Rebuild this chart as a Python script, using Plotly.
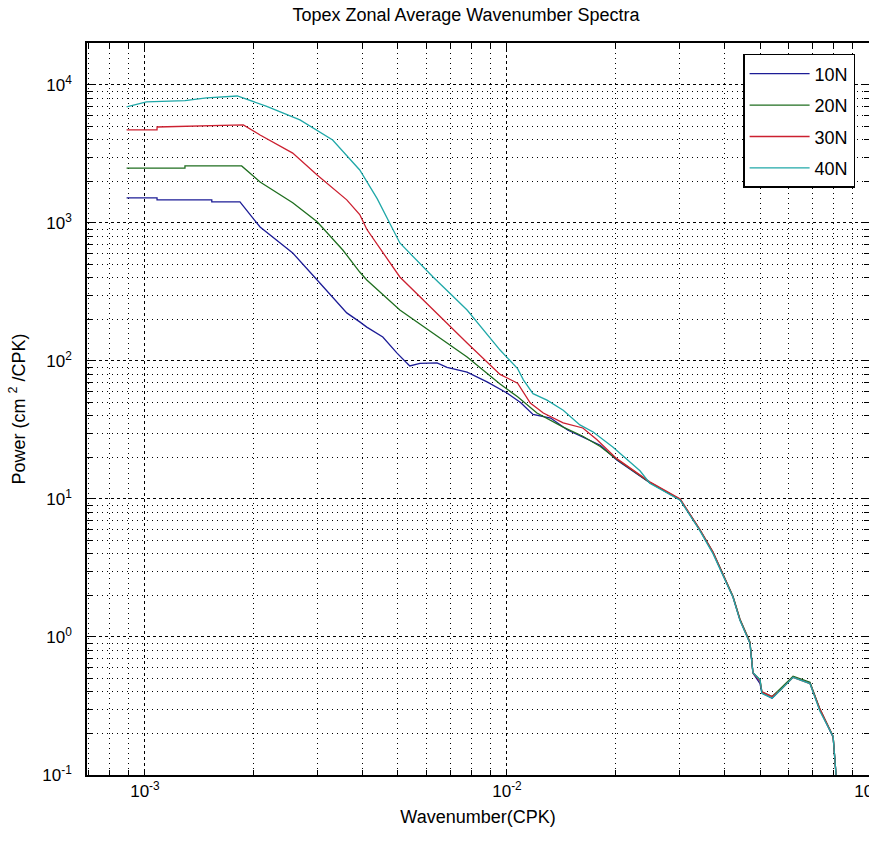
import plotly.graph_objects as go

# ---------------- data ----------------
k10 = [8.9e-4, 1.08e-3, 1.08e-3, 1.53e-3, 1.53e-3, 1.83e-3, 2.08e-3, 2.56e-3, 2.99e-3,
       3.30e-3, 3.61e-3, 3.92e-3, 4.10e-3, 4.54e-3, 4.97e-3, 5.39e-3, 5.75e-3, 6.41e-3,
       6.83e-3, 7.76e-3, 8.81e-3, 1.0e-2, 1.09e-2, 1.18e-2, 1.32e-2, 1.47e-2, 1.62e-2,
       1.81e-2, 2.01e-2, 2.48e-2, 3.01e-2, 3.41e-2, 3.71e-2, 4.21e-2, 4.40e-2, 4.69e-2,
       4.78e-2, 5.00e-2, 5.06e-2, 5.40e-2, 5.68e-2, 6.17e-2, 6.87e-2, 7.32e-2, 7.96e-2,
       8.11e-2, 8.13e-2]
p10 = [1520, 1520, 1470, 1470, 1420, 1420, 935, 606, 386,
       291, 223, 192, 176, 149, 114, 92, 96, 97,
       90, 83, 70.5, 58.6, 50, 41, 38.6, 31.6, 28,
       24.5, 19.2, 13.1, 9.85, 5.96, 4.06, 1.95, 1.33, 0.905,
       0.548, 0.46, 0.393, 0.36, 0.413, 0.513, 0.464, 0.296, 0.188,
       0.1, 0.05]

k20 = [8.9e-4, 1.29e-3, 1.29e-3, 1.85e-3, 2.08e-3, 2.56e-3, 2.99e-3, 3.52e-3, 3.92e-3,
       4.10e-3, 5.06e-3, 6.25e-3, 7.76e-3, 9.57e-3, 1.07e-2, 1.21e-2, 1.43e-2, 1.62e-2,
       1.81e-2, 2.01e-2, 2.48e-2, 3.01e-2, 3.41e-2, 3.71e-2, 4.21e-2, 4.40e-2, 4.69e-2,
       4.78e-2, 5.00e-2, 5.06e-2, 5.40e-2, 5.68e-2, 6.17e-2, 6.87e-2, 7.32e-2, 7.96e-2,
       8.11e-2, 8.13e-2]
p20 = [2500, 2500, 2590, 2590, 1980, 1400, 1020, 637, 441,
       386, 234, 160, 107, 68, 55, 42, 33.2, 28.5,
       24, 19.4, 13.2, 9.9, 6.0, 4.1, 1.97, 1.35, 0.92,
       0.55, 0.49, 0.40, 0.37, 0.42, 0.52, 0.47, 0.30, 0.19,
       0.1, 0.05]

k30 = [8.9e-4, 1.08e-3, 1.08e-3, 1.87e-3, 2.08e-3, 2.56e-3, 2.99e-3, 3.61e-3, 3.92e-3,
       4.10e-3, 5.06e-3, 6.25e-3, 7.76e-3, 9.57e-3, 1.07e-2, 1.16e-2, 1.26e-2, 1.43e-2,
       1.62e-2, 1.77e-2, 2.01e-2, 2.48e-2, 3.01e-2, 3.41e-2, 3.71e-2, 4.21e-2, 4.40e-2,
       4.69e-2, 4.78e-2, 5.00e-2, 5.06e-2, 5.40e-2, 5.68e-2, 6.17e-2, 6.87e-2, 7.32e-2,
       7.96e-2, 8.11e-2, 8.13e-2]
p30 = [4720, 4720, 4960, 5130, 4340, 3210, 2230, 1470, 1150,
       900, 406, 234, 135, 80, 69, 49.6, 42, 35.6,
       32.7, 27, 19.6, 13.3, 10.0, 6.0, 4.1, 1.96, 1.34,
       0.91, 0.55, 0.48, 0.40, 0.37, 0.41, 0.51, 0.46, 0.30,
       0.19, 0.1, 0.05]

k40 = [8.9e-4, 1.01e-3, 1.29e-3, 1.48e-3, 1.80e-3, 2.17e-3, 2.68e-3, 3.30e-3, 3.92e-3,
       4.38e-3, 5.06e-3, 6.25e-3, 7.76e-3, 9.57e-3, 1.07e-2, 1.11e-2, 1.18e-2, 1.29e-2,
       1.43e-2, 1.59e-2, 1.73e-2, 1.96e-2, 2.33e-2, 2.48e-2, 3.01e-2, 3.41e-2, 3.71e-2,
       4.21e-2, 4.40e-2, 4.69e-2, 4.78e-2, 5.00e-2, 5.06e-2, 5.40e-2, 5.68e-2, 6.17e-2,
       6.87e-2, 7.32e-2, 7.96e-2, 8.11e-2, 8.13e-2]
p40 = [6930, 7530, 7700, 8050, 8320, 7000, 5580, 3990, 2420,
       1500, 716, 406, 234, 120, 88, 73, 58, 52,
       44, 34.4, 30.6, 23.8, 16, 13.0, 9.8, 5.9, 4.0,
       1.94, 1.32, 0.90, 0.55, 0.49, 0.39, 0.36, 0.41, 0.51,
       0.46, 0.29, 0.19, 0.1, 0.05]

series_names = ["10N", "20N", "30N", "40N"]
series_colors = ["#1c1c96", "#1f6e1f", "#cc2030", "#20a8a8"]

title_text = "Topex Zonal Average Wavenumber Spectra"
x_title = "Wavenumber(CPK)"
y_title = "Power (cm <sup>2</sup> /CPK)"

x_decades = [-3, -2, -1]
y_decades = [-1, 0, 1, 2, 3, 4]

# ---------------- figure ----------------
FONT = "Liberation Sans, Arial, sans-serif"

fig = go.Figure()
data = [(k10, p10), (k20, p20), (k30, p30), (k40, p40)]
for (k, p), name, col in zip(data, series_names, series_colors):
    fig.add_trace(go.Scatter(x=k, y=p, mode="lines", name=name, legendgroup=name,
                             line=dict(color=col, width=1.3)))

def major_vals(decs):
    return [10.0 ** d for d in decs]

def minor_vals(decs):
    out = []
    for d in decs[:-1] + [decs[0] - 1]:
        for m in range(2, 10):
            out.append(m * 10.0 ** d)
    return sorted(out)

def labels(decs):
    return ["10<sup>%d</sup>" % d for d in decs]

grid_major = "3px,3px"
grid_minor = "1px,4px"

common_axis = dict(
    type="log",
    showline=True, linecolor="black", linewidth=1.5, mirror="ticks",
    ticks="inside", ticklen=6, tickcolor="black",
    showgrid=True, gridcolor="black", gridwidth=1, griddash=grid_major,
    zeroline=False, automargin=False,
    tickfont=dict(family=FONT, size=17, color="black"),
    tickmode="array",
    ticklabeloverflow="allow",
)

fig.update_xaxes(**common_axis,
                 range=[-3.16, -1.0],
                 tickvals=major_vals(x_decades), ticktext=labels(x_decades),
                 minor=dict(tickmode="array", tickvals=minor_vals(x_decades),
                            ticks="inside", ticklen=5, tickcolor="black",
                            showgrid=True, gridcolor="black", gridwidth=1, griddash=grid_minor),
                 title=dict(text=x_title, font=dict(family=FONT, size=18, color="black"),
                            standoff=10))
fig.update_yaxes(**common_axis,
                 range=[-1.0, 4.304],
                 tickvals=major_vals(y_decades), ticktext=labels(y_decades),
                 ticklabelstandoff=10,
                 minor=dict(tickmode="array", tickvals=minor_vals(y_decades),
                            ticks="inside", ticklen=5, tickcolor="black",
                            showgrid=True, gridcolor="black", gridwidth=1, griddash=grid_minor),
                 title=dict(text=y_title, font=dict(family=FONT, size=18, color="black"),
                            standoff=12))

fig.update_layout(
    width=869, height=849,
    margin=dict(l=87, r=0, t=43, b=74),
    paper_bgcolor="white", plot_bgcolor="white",
    title=dict(text=title_text, x=466 / 869, xref="container", xanchor="center",
               y=1 - 15 / 849, yref="container", yanchor="middle",
               font=dict(family=FONT, size=18, color="black")),
    showlegend=True,
    legend=dict(x=0.839, y=0.985, xanchor="left", yanchor="top",
                bgcolor="white", bordercolor="black", borderwidth=1.5,
                font=dict(family=FONT, size=18, color="black"),
                tracegroupgap=5, itemwidth=60),
)

fig.write_html("out.html")
